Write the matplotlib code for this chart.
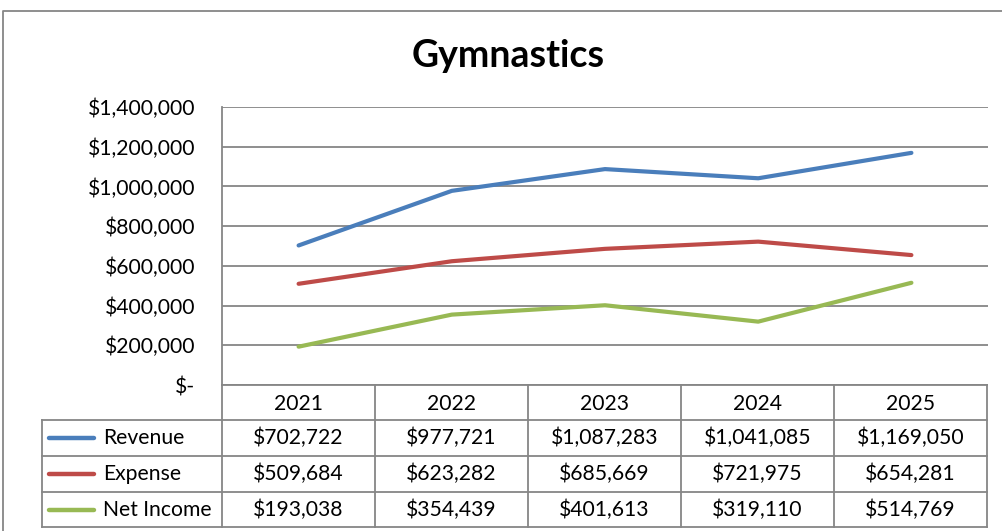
import matplotlib
matplotlib.use("Agg")
import matplotlib.pyplot as plt
from matplotlib.ticker import FuncFormatter

plt.rcParams['font.family'] = ['Lato', 'DejaVu Sans']

title = "Gymnastics"
years = ["2021", "2022", "2023", "2024", "2025"]
series_names = ["Revenue", "Expense", "Net Income"]
revenue = [702722, 977721, 1087283, 1041085, 1169050]
expense = [509684, 623282, 685669, 721975, 654281]
net_income = [193038, 354439, 401613, 319110, 514769]
colors = ["#4A7EBB", "#BE4B48", "#98B954"]
yticks = [0, 200000, 400000, 600000, 800000, 1000000, 1200000, 1400000]

W, H = 1003, 531
fig = plt.figure(figsize=(W / 100, H / 100), dpi=100)
grid_c = "#868686"
fs = 15.2

# pixel layout
px_left, px_right, px_top, px_zero = 222, 988, 107, 385
ax = fig.add_axes([px_left / W, 1 - px_zero / H, (px_right - px_left) / W, (px_zero - px_top) / H])
n = len(years)
xs = list(range(n))
for vals, c in zip([revenue, expense, net_income], colors):
    ax.plot(xs, vals, color=c, lw=3.0, solid_capstyle='round', solid_joinstyle='round', zorder=3)
ax.set_xlim(-0.5, n - 0.5)
ax.set_ylim(0, 1400000)
ax.set_yticks(yticks)
ax.yaxis.set_major_formatter(FuncFormatter(lambda v, p: "$-" if v == 0 else f"${v:,.0f}"))
ax.tick_params(axis='y', length=0, pad=19.5, labelsize=fs, labelcolor='black')
ax.set_xticks([])
ax.grid(axis='y', color=grid_c, lw=1.3)
ax.set_axisbelow(True)
for s in ['top', 'right', 'bottom']:
    ax.spines[s].set_visible(False)
ax.spines['left'].set_color(grid_c)
ax.spines['left'].set_linewidth(1.3)

# overlay in pixel coordinates for table and frame
ov = fig.add_axes([0, 0, 1, 1], facecolor='none')
ov.set_xlim(0, W)
ov.set_ylim(H, 0)
ov.axis('off')

# chart outer frame
ov.plot([3, 3, W + 5], [H + 5, 11, 11], color=grid_c, lw=1.3)

fig.text(508 / W, 1 - 56 / H, title, ha='center', va='center', fontsize=27, fontweight='bold')

col_w = (px_right - 1 - px_left) / n
col_edges = [px_left + i * col_w for i in range(n + 1)]
row_edges = [385, 420, 456, 492, 527]
label_left = 42
lw_t = 1.3
for xe in col_edges:
    ov.plot([xe, xe], [row_edges[0], row_edges[-1]], color=grid_c, lw=lw_t)
ov.plot([col_edges[0], col_edges[-1]], [row_edges[0], row_edges[0]], color=grid_c, lw=lw_t)
for ye in row_edges[1:]:
    ov.plot([label_left, col_edges[-1]], [ye, ye], color=grid_c, lw=lw_t)
ov.plot([label_left, label_left], [row_edges[1], row_edges[-1]], color=grid_c, lw=lw_t)

for i, yr in enumerate(years):
    ov.text((col_edges[i] + col_edges[i + 1]) / 2, (row_edges[0] + row_edges[1]) / 2 + 1, yr,
            ha='center', va='center', fontsize=fs)

all_vals = [revenue, expense, net_income]
for r, (name, vals, c) in enumerate(zip(series_names, all_vals, colors)):
    yc = (row_edges[r + 1] + row_edges[r + 2]) / 2
    ov.plot([49, 94], [yc, yc], color=c, lw=3.2, solid_capstyle='round')
    ov.text(103, yc, name, ha='left', va='center', fontsize=fs)
    for i, v in enumerate(vals):
        ov.text((col_edges[i] + col_edges[i + 1]) / 2, yc, f"${v:,.0f}",
                ha='center', va='center', fontsize=fs)

fig.savefig("out.png", dpi=100)
